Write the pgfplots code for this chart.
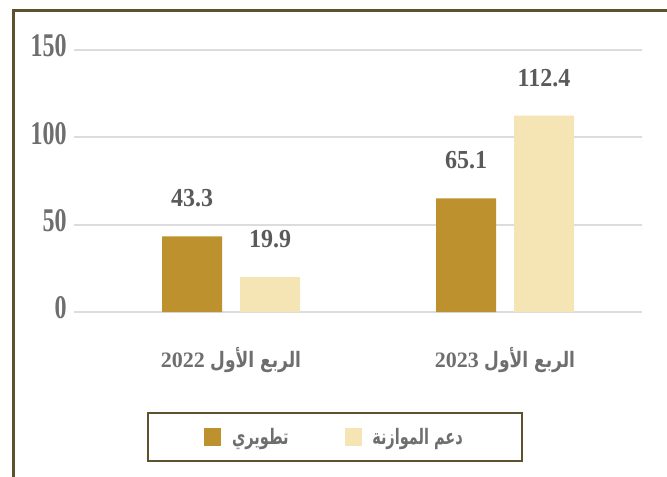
\documentclass[border=0pt]{standalone}
\usepackage{fontspec}
\setmainfont{Liberation Serif}
\newfontfamily\arabicfont[Script=Arabic]{DejaVu Sans}
\TeXXeTstate=1
\usepackage{pgfplots}
\pgfplotsset{compat=1.18}
\definecolor{darkbar}{HTML}{BE912F}
\definecolor{lightbar}{HTML}{F5E4B4}
\definecolor{framecol}{HTML}{5E512D}
\definecolor{gridcol}{HTML}{DCDCDE}
\definecolor{tickcol}{HTML}{6E6E6E}
\definecolor{valcol}{HTML}{5A5A5A}
\begin{document}
\begin{tikzpicture}
\useasboundingbox (0,0) rectangle (500.25pt,357pt);
\draw[framecol, line width=2.25pt] (9.75pt,-5pt) -- (9.75pt,348.75pt) -- (505pt,348.75pt);
\begin{axis}[
  at={(55.5pt,123pt)}, anchor=south west,
  scale only axis, width=426pt, height=196.5pt,
  xmin=-0.573, xmax=1.5, ymin=0, ymax=150,
  ybar=13.5pt, bar width=45pt,
  axis line style={draw=none}, tick style={draw=none},
  ytick={0,50,100,150}, ymajorgrids,
  major grid style={draw=gridcol, line width=1.5pt},
  xtick={0,1},
  xticklabels={
    {{\fontsize{16.5}{16.5}\selectfont 2022} \scalebox{0.8}[1]{\arabicfont\bfseries\beginR الربع الأول\endR}},
    {{\fontsize{16.5}{16.5}\selectfont 2023} \scalebox{0.8}[1]{\arabicfont\bfseries\beginR الربع الأول\endR}}},
  xticklabel style={anchor=center, inner sep=0pt, yshift=-31.5pt, text=tickcol, font=\fontsize{16}{16}\selectfont\bfseries},
  yticklabel={\scalebox{1}[1.38]{\pgfmathprintnumber{\tick}}},
  yticklabel style={anchor=east, inner sep=0pt, xshift=-5.25pt, yshift=3pt, text=tickcol, font=\fontsize{18}{18}\selectfont\bfseries},
  /pgf/number format/assume math mode=true,
  nodes near coords={\scalebox{1}[1.08]{\pgfmathprintnumber[fixed,precision=1,fixed zerofill]{\pgfplotspointmeta}}},
  every node near coord/.append style={anchor=south, inner sep=0pt, yshift=21.75pt, text=valcol, font=\fontsize{18}{18}\selectfont\bfseries},
  legend image code/.code={\fill[#1] (0pt,-6.4pt) rectangle (12.75pt,6.4pt);},
  legend columns=2,
  legend style={at={(0.4595,-0.4771)}, anchor=center, draw=framecol, line width=1.5pt,
    inner xsep=42pt, inner ysep=9pt,
    font=\fontsize{16}{16}\selectfont\bfseries, text=tickcol,
    /tikz/every even column/.append style={column sep=40pt},
    /tikz/every odd column/.append style={column sep=6pt}},
]
\addplot[fill=darkbar, draw=none] coordinates {(0,43.3) (1,65.1)};
\addlegendentry{\scalebox{0.68}[1]{\arabicfont\bfseries\beginR تطويري\endR}}
\addplot[fill=lightbar, draw=none] coordinates {(0,19.9) (1,112.4)};
\addlegendentry{\scalebox{0.68}[1]{\arabicfont\bfseries\beginR دعم الموازنة\endR}}
\end{axis}
\end{tikzpicture}
\end{document}
